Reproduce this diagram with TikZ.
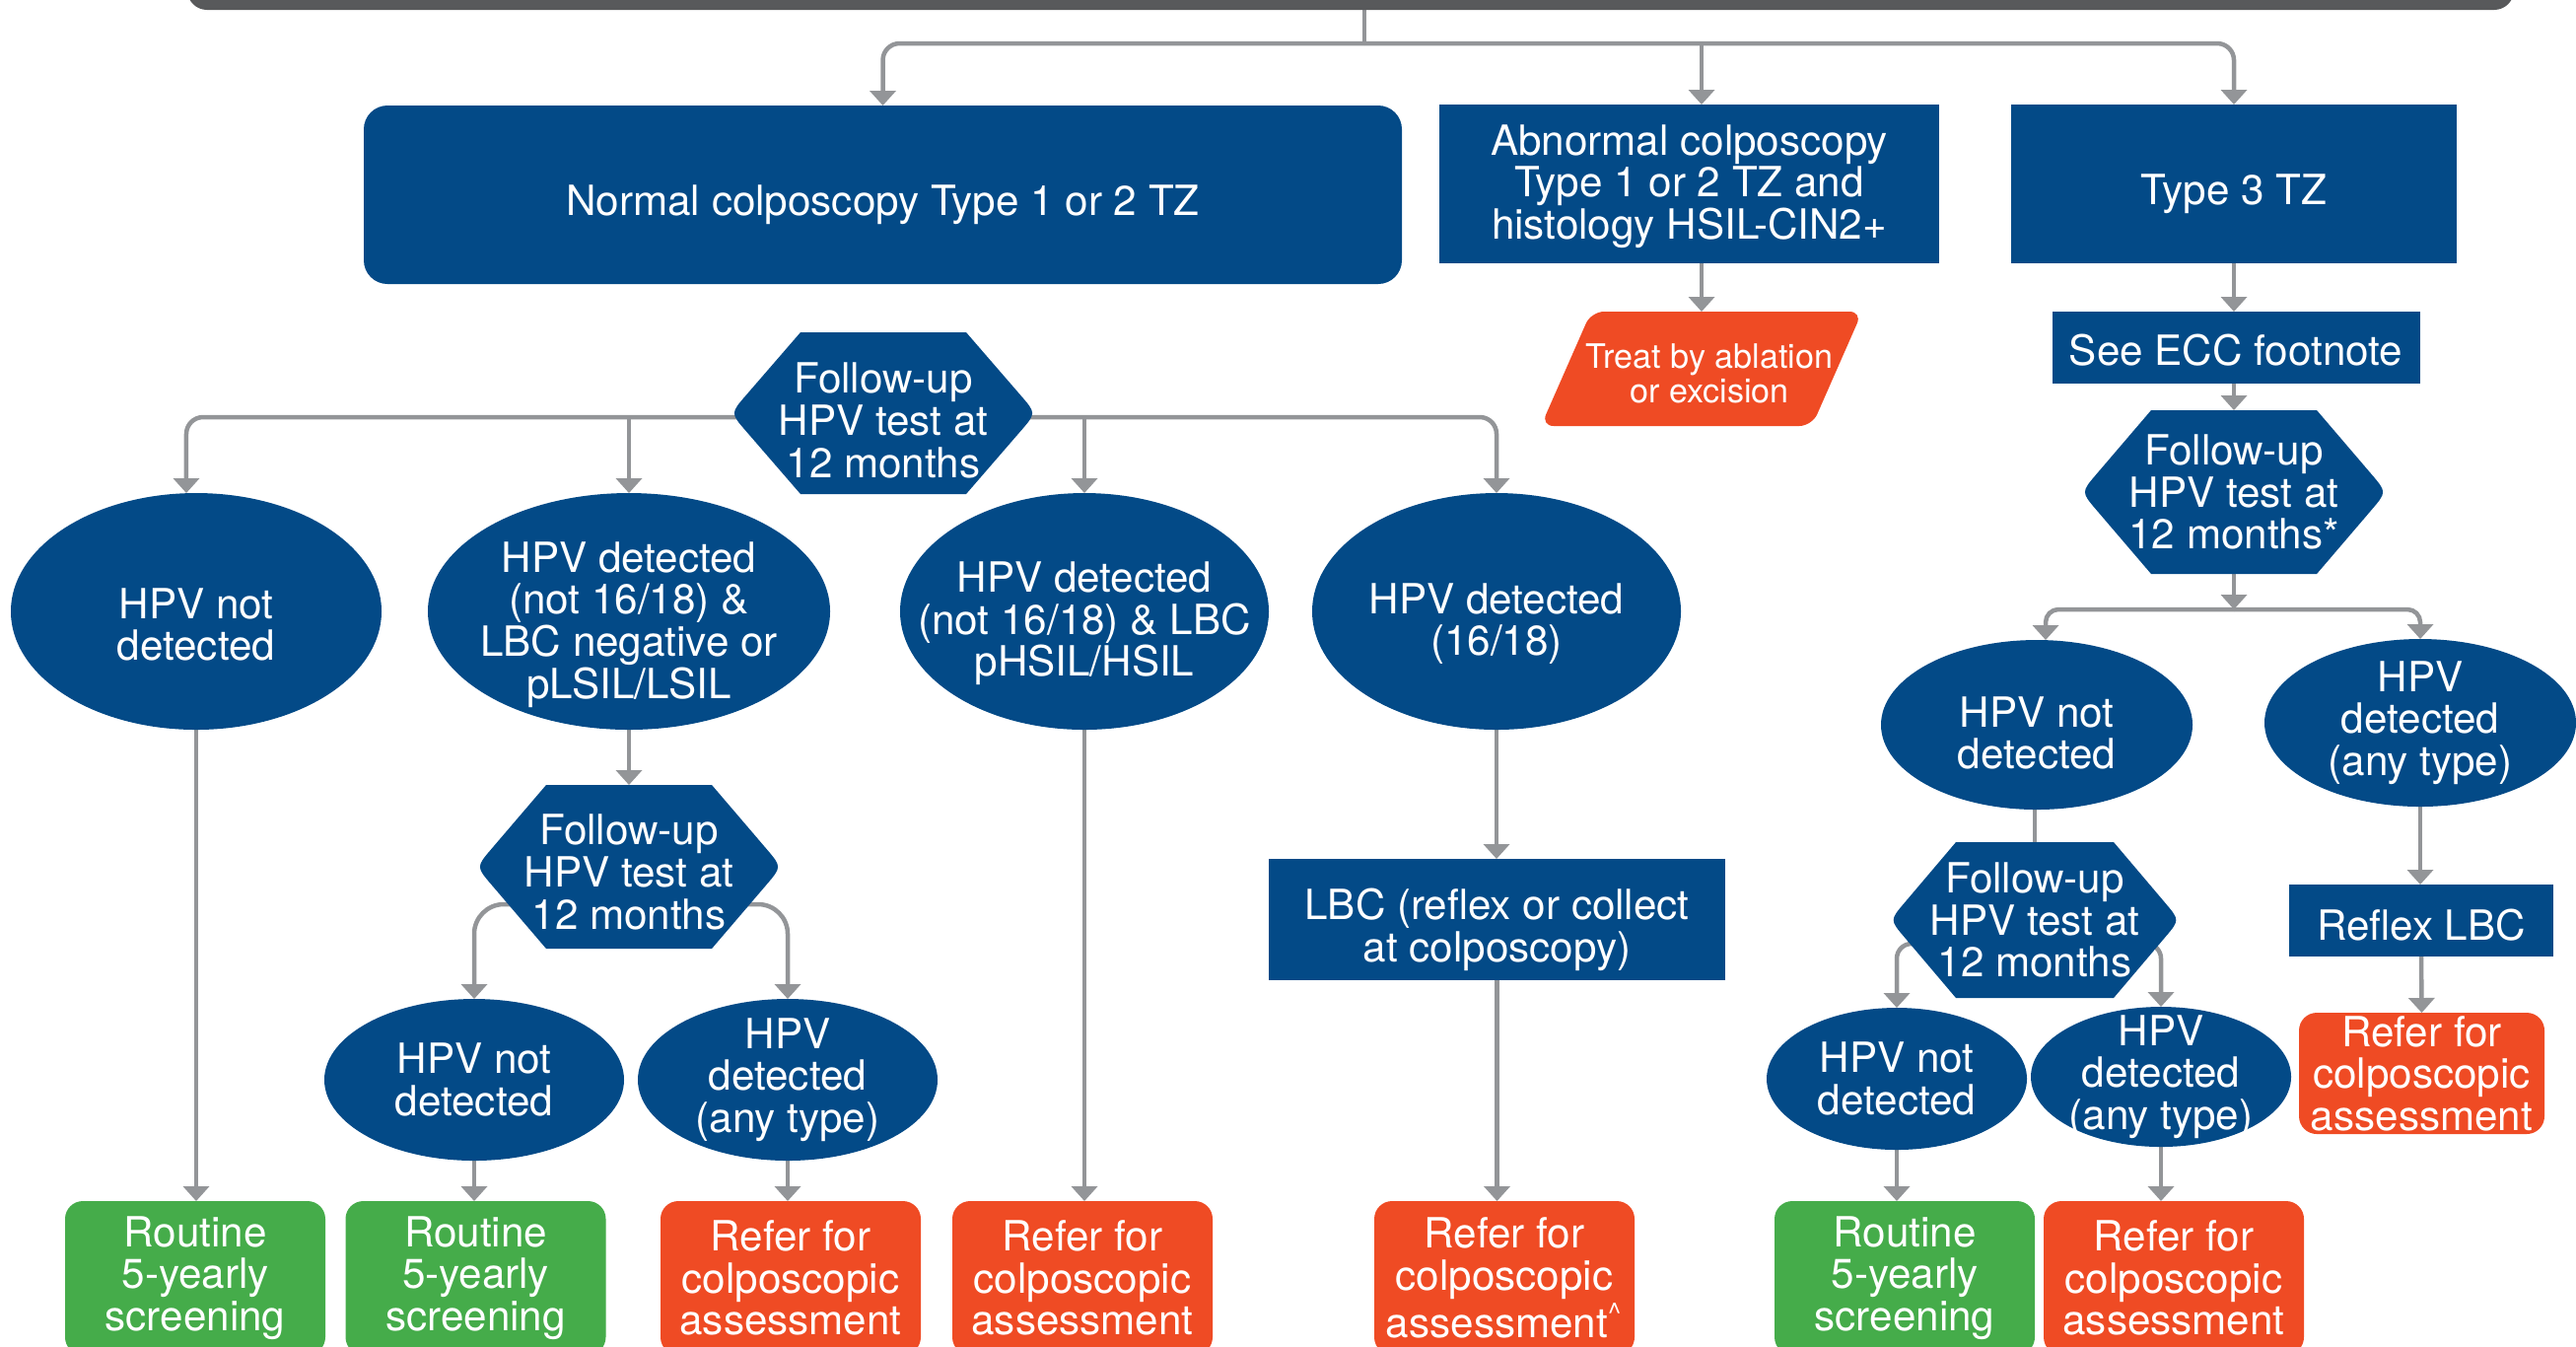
\documentclass[tikz,border=0pt]{standalone}
\usepackage{fontspec}
\setmainfont{TeX Gyre Heros}
\usetikzlibrary{arrows.meta,backgrounds}
\definecolor{navy}{HTML}{034A87}
\definecolor{flame}{HTML}{EF4B24}
\definecolor{leaf}{HTML}{45AC4A}
\definecolor{wire}{HTML}{939598}
\definecolor{slate}{HTML}{58595B}
\pgfdeclarelayer{shapes}
\pgfsetlayers{background,shapes,main}
% strut that pushes a node's text block down by #1
\newcommand\sink[1]{\rule{0pt}{\dimexpr 9pt+#1*2\relax}}
% hexagon with rounded side vertices around node #1: half top width #2, half width #3, half height #4
\newcommand\hexshape[4]{%
  \fill[navy] ([shift={(-#2,-#4)}]#1.center) -- ([shift={(#2,-#4)}]#1.center)
    -- ([shift={({#3-0.22*(#3-#2)},{-0.22*#4})}]#1.center)
    .. controls ([shift={(#3,0)}]#1.center) .. ([shift={({#3-0.22*(#3-#2)},{0.22*#4})}]#1.center)
    -- ([shift={(#2,#4)}]#1.center) -- ([shift={(-#2,#4)}]#1.center)
    -- ([shift={({-#3+0.22*(#3-#2)},{0.22*#4})}]#1.center)
    .. controls ([shift={(-#3,0)}]#1.center) .. ([shift={({-#3+0.22*(#3-#2)},{-0.22*#4})}]#1.center)
    -- cycle;}
\tikzset{
  txt/.style={inner sep=0pt, outer sep=0pt, align=center, text=white,
    font=\fontsize{12pt}{12.1pt}\selectfont},
  sz/.style 2 args={minimum width=#1*0.01cm, minimum height=#2*0.01cm},
  sqbox/.style 2 args={txt, sz={#1}{#2}, fill=navy},
  rbox/.style 2 args={txt, sz={#1}{#2}, fill=navy, rounded corners=0.24cm},
  goodbox/.style={txt, sz={264}{156}, fill=leaf, rounded corners=0.18cm},
  referbox/.style={txt, sz={264}{156}, fill=flame, rounded corners=0.18cm},
  oval/.style 2 args={txt, sz={2*#1}{2*#2},
    path picture={\fill[navy] (path picture bounding box.center)
      ellipse [x radius=#1, y radius=#2];}},
  hexa/.style 2 args={txt, sz={2*#1}{2*#2}},
  slant/.style={txt, sz={326}{116}, font=\fontsize{9.7pt}{10pt}\selectfont},
  link/.style={draw=wire, line width=0.045cm},
  arrow/.style={link, -{Triangle[width=0.26cm,length=0.15cm]}},
}
\begin{document}
\begin{tikzpicture}[x=0.01cm, y=-0.01cm]
\useasboundingbox (0,0) rectangle (2613,1365);
\clip (0,0) rectangle (2613,1365);

% header bar
\node[txt, sz={2360}{80}, fill=slate, rounded corners=0.2cm] (top) at (1370,-30) {};

% first level
\node[rbox={1053}{181}] (normal) at (895.5,197.5) {\sink{0.1cm}Normal colposcopy Type 1 or 2 TZ};
\node[sqbox={507}{161}] (abn) at (1713.5,186.5) {\sink{0.02cm}Abnormal colposcopy\\Type 1 or 2 TZ and\\histology HSIL-CIN2+};
\node[sqbox={452}{161}] (tz3) at (2266,186.5) {\sink{0.1cm}Type 3 TZ};
\node[slant] (treat) at (1726,374) {\sink{0.01cm}\hspace*{0.16cm}Treat by ablation\\\hspace*{0.16cm}or excision};
\node[sqbox={373}{73}] (ecc) at (2268,352.5) {\sink{0.03cm}See ECC footnote};

% follow-up tests
\node[hexa={155}{82}] (fu1) at (896,419) {\sink{0.07cm}Follow-up\\HPV test at\\12 months};
\node[hexa={155}{83}] (fu3) at (2266,499) {Follow-up\\HPV test at\\12 months*};

% results of first follow-up
\node[oval={188}{120}] (e1) at (199,620) {\sink{0.13cm}HPV not\\detected};
\node[oval={204}{120}] (e2) at (638,620) {\sink{0.13cm}HPV detected\\(not 16/18) \&\\LBC negative or\\pLSIL/LSIL};
\node[oval={187}{120}] (e3) at (1100,620) {\sink{0.12cm}HPV detected\\(not 16/18) \& LBC\\pHSIL/HSIL};
\node[oval={187}{120}] (e4) at (1518,620) {\sink{0.12cm}HPV detected\\(16/18)};
\node[oval={158}{86}] (e5) at (2066,735) {\sink{0.08cm}HPV not\\detected};
\node[oval={158}{85}] (e6) at (2455,733) {HPV\\detected\\(any type)};

% second level
\node[hexa={155}{83}] (fu2) at (638,879) {\sink{0.05cm}Follow-up\\HPV test at\\12 months};
\node[sqbox={463}{123}] (lbc) at (1518.5,932.5) {\sink{0.1cm}LBC (reflex or collect\\at colposcopy)};
\node[sqbox={268}{73}] (reflex) at (2456,933.5) {\sink{0.05cm}Reflex LBC};
\node[hexa={147}{79}] (fu4) at (2064,933) {Follow-up\\HPV test at\\12 months};

\node[oval={152}{82}] (e9) at (481,1095) {HPV not\\detected};
\node[oval={152}{82}] (e10) at (799,1095) {HPV\\detected\\(any type)};
\node[oval={132}{72}] (e7) at (1924,1094) {HPV not\\detected};
\node[oval={132}{71}] (e8) at (2192,1092) {HPV\\detected\\(any type)};
\node[referbox, sz={249}{123}] (r8) at (2456.5,1088.5) {Refer for\\colposcopic\\assessment};

% outcomes
\node[goodbox] (g1) at (198,1296) {Routine\\5-yearly\\screening};
\node[goodbox] (g2) at (482.5,1296) {Routine\\5-yearly\\screening};
\node[referbox] (r3) at (802,1296) {Refer for\\colposcopic\\assessment};
\node[referbox] (r4) at (1098,1296) {Refer for\\colposcopic\\assessment};
\node[referbox] (r5) at (1526,1296) {Refer for\\colposcopic\\assessment\textsuperscript{\textasciicircum}};
\node[goodbox] (g6) at (1932,1296) {Routine\\5-yearly\\screening};
\node[referbox] (r7) at (2205,1296) {Refer for\\colposcopic\\assessment};

% shapes drawn beneath the node texts
\begin{pgfonlayer}{shapes}
  \hexshape{fu1}{84}{155}{82}
  \hexshape{fu3}{84}{155}{83}
  \hexshape{fu2}{84}{155}{83}
  \hexshape{fu4}{80}{147}{79}
  \fill[flame, rounded corners=0.13cm] ([shift={(-112,-58)}]treat.center)
    -- ([shift={(163,-58)}]treat.center) -- ([shift={(112,58)}]treat.center)
    -- ([shift={(-163,58)}]treat.center) -- cycle;
\end{pgfonlayer}

\begin{scope}[on background layer]
  % from the header
  \coordinate (j0) at (1384,44);
  \draw[link] (top.south -| j0) -- (j0);
  \draw[arrow, rounded corners=0.17cm] (j0) -| (normal.north);
  \draw[arrow, rounded corners=0.17cm] (j0) -| (tz3.north);
  \draw[arrow] (j0 -| treat.north) -- (abn.north -| treat.north);
  \draw[arrow] (abn.south -| treat.north) -- (treat.north);

  % type 3 branch
  \draw[arrow] (tz3.south) -- (ecc.north -| tz3.south);
  \draw[arrow] (ecc.south -| fu3.north) -- (fu3.north);
  \coordinate (j3) at (2266,618);
  \draw[arrow] (fu3.south) -- (j3);
  \draw[arrow, rounded corners=0.13cm] (j3) -| ([xshift=0.09cm]e5.north);
  \draw[arrow, rounded corners=0.13cm] (j3) -| (e6.north);
  \draw[link] (fu4.north |- e5.south) -- (fu4.north);
  \coordinate (b4) at (2064,957);
  \draw[arrow, rounded corners=0.15cm] (b4) -| (e7.north);
  \draw[arrow, rounded corners=0.15cm] (b4) -| (e8.north);
  \draw[arrow] (e7.south) -- (e7.south |- g6.north);
  \draw[arrow] (e8.south) -- (e8.south |- r7.north);
  \draw[arrow] (e6.south) -- (e6.south |- reflex.north);
  \draw[arrow] (reflex.south) -- (r8.north);

  % normal colposcopy branch
  \coordinate (b1) at (896,423);
  \draw[arrow, rounded corners=0.17cm] (b1) -| ([xshift=-0.1cm]e1.north);
  \draw[arrow, rounded corners=0.17cm] (b1) -| (e4.north);
  \draw[arrow] (b1 -| e2.north) -- (e2.north);
  \draw[arrow] (b1 -| e3.north) -- (e3.north);
  \draw[arrow] (e1.south) -- (e1.south |- g1.north);
  \draw[arrow] (e2.south) -- (fu2.north);
  \coordinate (b2) at (638,917);
  \draw[arrow, rounded corners=0.3cm] (b2) -| (e9.north);
  \draw[arrow, rounded corners=0.3cm] (b2) -| (e10.north);
  \draw[arrow] (e9.south) -- (e9.south |- g2.north);
  \draw[arrow] (e10.south) -- (e10.south |- r3.north);
  \draw[arrow] (e3.south) -- (e3.south |- r4.north);
  \draw[arrow] (e4.south) -- (e4.south |- lbc.north);
  \draw[arrow] (lbc.south) -- (lbc.south |- r5.north);
\end{scope}
\end{tikzpicture}
\end{document}
